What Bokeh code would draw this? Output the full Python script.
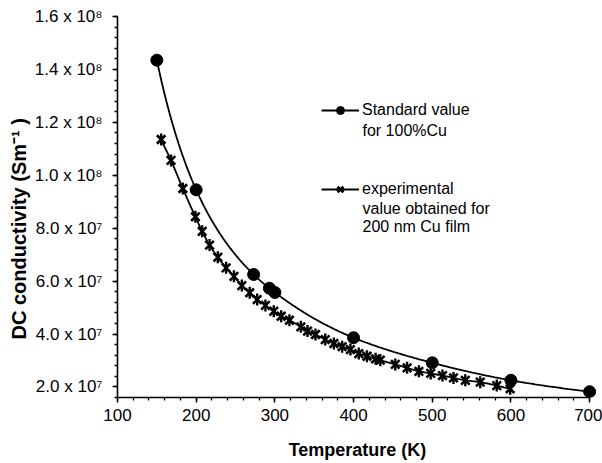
import numpy as np
from bokeh.plotting import figure
from bokeh.models import FixedTicker, Label, Legend, LegendItem, Range1d, Title
from bokeh.embed import file_html
from bokeh.resources import INLINE

# ---- data ----
std_T = [150, 200, 273, 293, 300, 400, 500, 600, 700]
std_sigma = [1.435e8, 9.45e7, 6.25e7, 5.73e7, 5.57e7, 3.86e7, 2.91e7, 2.25e7, 1.82e7]

exp_T = [155.5, 168, 183, 199, 207.6, 217, 227.5, 238, 248, 258, 268, 277.5, 288,
         298.6, 308, 318.5, 333, 341.5, 351.6, 364, 375, 385.5, 396, 406.6, 417,
         428, 434, 453, 468, 483, 498, 513, 527, 542, 561, 582, 599]
exp_sigma = [1.135e8, 1.056e8, 9.5e7, 8.43e7, 7.88e7, 7.36e7, 6.9e7, 6.5e7, 6.18e7,
             5.83e7, 5.56e7, 5.3e7, 5.08e7, 4.86e7, 4.67e7, 4.52e7, 4.27e7, 4.11e7,
             3.98e7, 3.79e7, 3.64e7, 3.52e7, 3.41e7, 3.26e7, 3.16e7, 3.06e7, 3.01e7,
             2.85e7, 2.72e7, 2.59e7, 2.51e7, 2.43e7, 2.34e7, 2.25e7, 2.18e7, 2.05e7, 1.93e7]

x_ticks = [100, 200, 300, 400, 500, 600, 700]
x_tick_labels = ["100", "200", "300", "400", "500", "600", "700"]
y_ticks = [2e7, 4e7, 6e7, 8e7, 1e8, 1.2e8, 1.4e8, 1.6e8]
y_tick_labels = ["2.0 x 10⁷", "4.0 x 10⁷", "6.0 x 10⁷", "8.0 x 10⁷",
                 "1.0 x 10⁸", "1.2 x 10⁸", "1.4 x 10⁸", "1.6 x 10⁸"]

x_title = "Temperature (K)"
y_title = "DC conductivity (Sm⁻¹ )"
legend_labels = ["Standard value", "experimental"]
legend_extra_1 = ["for 100%Cu"]
legend_extra_2 = ["value obtained for", "200 nm Cu film"]


def natural_spline(xs, ys, n=400):
    """Natural cubic spline in log-log space, used only to draw a smooth line."""
    x = np.log(np.asarray(xs, float))
    y = np.log(np.asarray(ys, float))
    k = len(x)
    h = np.diff(x)
    A = np.zeros((k, k))
    r = np.zeros(k)
    A[0, 0] = A[-1, -1] = 1.0
    for i in range(1, k - 1):
        A[i, i - 1] = h[i - 1]
        A[i, i] = 2 * (h[i - 1] + h[i])
        A[i, i + 1] = h[i]
        r[i] = 6 * ((y[i + 1] - y[i]) / h[i] - (y[i] - y[i - 1]) / h[i - 1])
    M = np.linalg.solve(A, r)
    xx = np.linspace(x[0], x[-1], n)
    idx = np.clip(np.searchsorted(x, xx) - 1, 0, k - 2)
    x0, x1 = x[idx], x[idx + 1]
    hh = h[idx]
    yy = (M[idx] * (x1 - xx) ** 3 / (6 * hh) + M[idx + 1] * (xx - x0) ** 3 / (6 * hh)
          + (y[idx] / hh - M[idx] * hh / 6) * (x1 - xx)
          + (y[idx + 1] / hh - M[idx + 1] * hh / 6) * (xx - x0))
    return np.exp(xx), np.exp(yy)


def pchip(xs, ys, n=400):
    """Monotone cubic curve in log-log space, used only to draw a smooth line."""
    x = np.log(np.asarray(xs, float))
    y = np.log(np.asarray(ys, float))
    h = np.diff(x)
    d = np.diff(y) / h
    m = np.zeros_like(x)
    m[0], m[-1] = d[0], d[-1]
    for k in range(1, len(x) - 1):
        if d[k - 1] * d[k] > 0:
            w1 = 2 * h[k] + h[k - 1]
            w2 = h[k] + 2 * h[k - 1]
            m[k] = (w1 + w2) / (w1 / d[k - 1] + w2 / d[k])
    xx = np.linspace(x[0], x[-1], n)
    idx = np.clip(np.searchsorted(x, xx) - 1, 0, len(x) - 2)
    t = (xx - x[idx]) / h[idx]
    yy = ((2 * t**3 - 3 * t**2 + 1) * y[idx] + (t**3 - 2 * t**2 + t) * h[idx] * m[idx]
          + (-2 * t**3 + 3 * t**2) * y[idx + 1] + (t**3 - t**2) * h[idx] * m[idx + 1])
    return np.exp(xx), np.exp(yy)


# x range runs a little past 700 so the last marker is not cut; the axis line stops at 700
p = figure(frame_width=480, frame_height=381,
           min_border_left=117, min_border_right=5, min_border_top=16, min_border_bottom=66,
           x_range=Range1d(100, 710), y_range=Range1d(1.6e7, 1.6e8),
           output_backend="svg", toolbar_location=None)
p.outline_line_color = None
p.grid.visible = False
p.background_fill_color = "white"
p.border_fill_color = "white"

FONT = "Liberation Sans"

# axes
p.xaxis.bounds = (100, 700)
p.xaxis.ticker = FixedTicker(ticks=x_ticks, minor_ticks=list(range(100, 701, 20)))
p.xaxis.major_label_overrides = {t: l for t, l in zip(x_ticks, x_tick_labels)}
p.yaxis.ticker = FixedTicker(ticks=y_ticks, minor_ticks=[1.6e7 + 4e6 * i for i in range(37)])
p.yaxis.major_label_overrides = {t: l for t, l in zip(y_ticks, y_tick_labels)}

for ax in (p.xaxis[0], p.yaxis[0]):
    ax.axis_line_width = 1.6
    ax.axis_line_color = "black"
    ax.major_tick_line_width = 1.5
    ax.minor_tick_line_width = 1.3
    ax.major_tick_in = 0
    ax.major_tick_out = 5
    ax.minor_tick_in = 0
    ax.minor_tick_out = 3
    ax.major_label_text_font = FONT
    ax.major_label_text_font_size = "17px"
    ax.major_label_text_color = "black"

p.xaxis.major_label_standoff = 6
p.yaxis.major_label_standoff = 10
p.xaxis.axis_label = x_title
p.xaxis.axis_label_text_font = FONT
p.xaxis.axis_label_text_font_style = "bold"
p.xaxis.axis_label_text_font_size = "18px"
p.xaxis.axis_label_text_color = "black"
p.xaxis.axis_label_standoff = 16

# y axis title, placed lower than the frame centre like in the reference
p.add_layout(Title(text=y_title, align="left", offset=58, standoff=3,
                   text_font=FONT, text_font_style="bold", text_font_size="20px",
                   text_color="black"), "left")

# series
sx, sy = natural_spline(std_T, std_sigma)
std_line = p.line(sx, sy, line_color="black", line_width=1.8)
std_pts = p.scatter(std_T, std_sigma, marker="circle", size=12,
                    fill_color="black", line_color="black")

ex, ey = pchip(exp_T, exp_sigma)
exp_line = p.line(ex, ey, line_color="black", line_width=1.8)
exp_x = p.scatter(exp_T, exp_sigma, marker="x", size=12, line_color="black", line_width=2.6)
exp_v = p.scatter(exp_T, exp_sigma, marker="dash", size=12, angle=np.pi / 2,
                  line_color="black", line_width=2.4)

legend = Legend(items=[LegendItem(label=legend_labels[0], renderers=[std_line, std_pts]),
                       LegendItem(label=legend_labels[1], renderers=[exp_line, exp_x, exp_v])],
                location=(204, 198), orientation="vertical",
                glyph_width=38, glyph_height=20, label_height=20, label_width=10,
                spacing=59, padding=0, margin=0, label_standoff=3,
                label_text_font=FONT, label_text_font_size="16px",
                label_text_color="black", label_text_baseline="middle",
                background_fill_alpha=0, border_line_color=None)
p.add_layout(legend)

for txt, yy in zip(legend_extra_1, [267]):
    p.add_layout(Label(x=245, y=yy, x_units="screen", y_units="screen", text=txt,
                       text_baseline="middle", text_font=FONT, text_font_size="16px",
                       text_color="black"))
for txt, yy in zip(legend_extra_2, [189.5, 171]):
    p.add_layout(Label(x=245, y=yy, x_units="screen", y_units="screen", text=txt,
                       text_baseline="middle", text_font=FONT, text_font_size="16px",
                       text_color="black"))

open("out.html", "w").write(file_html(p, INLINE))
